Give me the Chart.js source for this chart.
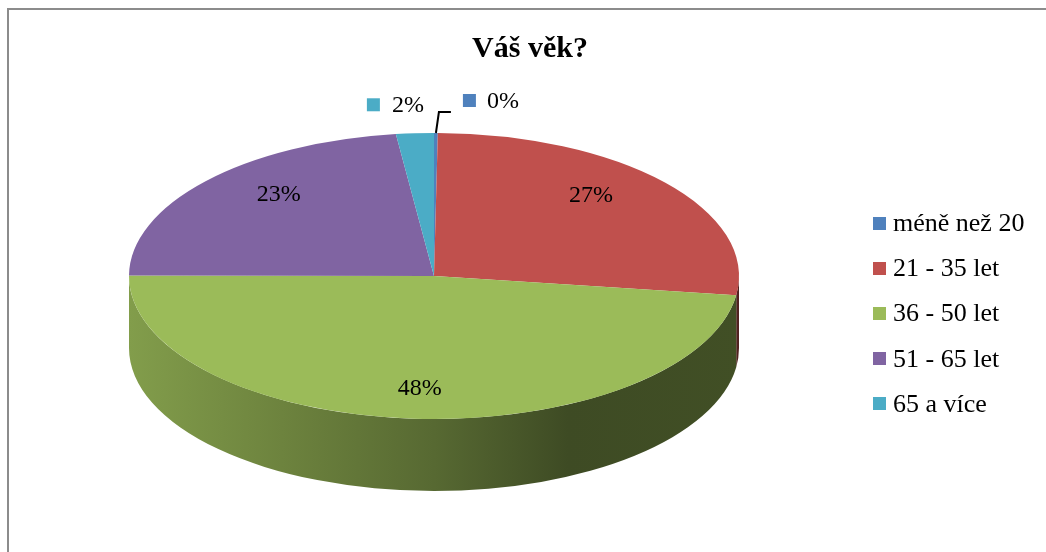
<!DOCTYPE html>
<html>
<head>
<meta charset="utf-8">
<script src="https://cdn.jsdelivr.net/npm/chart.js@4/dist/chart.umd.min.js"></script>
<style>
  html, body { margin: 0; padding: 0; background: #fff; overflow: hidden; }
  #wrap { position: relative; width: 1046px; height: 552px; }
  #frame { position: absolute; left: 7px; top: 8px; width: 1100px; height: 600px; border: 2px solid #8c8c8c; box-sizing: border-box; }
  #chart { position: absolute; left: 0; top: 0; }
  #legend { position: absolute; left: 873px; top: 0; font-family: 'Liberation Serif', 'Times New Roman', serif; font-size: 26px; color: #000; }
  .item { position: absolute; left: 0; height: 30px; display: flex; align-items: center; white-space: nowrap; }
  .box { width: 13px; height: 13px; margin-right: 7px; flex: none; }
</style>
</head>
<body>
<div id="wrap">
  <div id="frame"></div>
  <canvas id="chart" width="1046" height="552"></canvas>
  <div id="legend"></div>
</div>
<script>
// data
const TITLE = 'Váš věk?';
const labels = ['méně než 20', '21 - 35 let', '36 - 50 let', '51 - 65 let', '65 a více'];
const values = [0.2, 27, 48, 23, 2];
const colors = ['#4f81bd', '#c0504d', '#9bbb59', '#8064a2', '#4bacc6'];

// 3D ellipse layout (screen pixels)
const PIE = { cx: 434, cy: 276, rx: 305, ry: 143, depth: 72, labelCy: 272 };
const FONT = "'Liberation Serif', 'Times New Roman', serif";

function shade(hex, k) {
  const n = parseInt(hex.slice(1), 16);
  const r = Math.round(((n >> 16) & 255) * k);
  const g = Math.round(((n >> 8) & 255) * k);
  const b = Math.round((n & 255) * k);
  return `rgb(${r},${g},${b})`;
}

// side wall + squash the round pie into an ellipse
const pie3d = {
  id: 'pie3d',
  beforeDatasetsDraw(chart) {
    const ctx = chart.ctx;
    const meta = chart.getDatasetMeta(0);
    const first = meta.data[0];
    const R = first.outerRadius;

    // side wall of the front half
    meta.data.forEach((arc, i) => {
      const lo = Math.max(arc.startAngle, 0);
      const hi = Math.min(arc.endAngle, Math.PI);
      if (hi <= lo) return;
      const grad = ctx.createLinearGradient(PIE.cx - PIE.rx, 0, PIE.cx + PIE.rx, 0);
      grad.addColorStop(0, shade(colors[i], 0.84));
      grad.addColorStop(0.25, shade(colors[i], 0.7));
      grad.addColorStop(0.5, shade(colors[i], 0.56));
      grad.addColorStop(0.72, shade(colors[i], 0.4));
      grad.addColorStop(1, shade(colors[i], 0.42));
      ctx.save();
      ctx.beginPath();
      ctx.ellipse(PIE.cx, PIE.cy, PIE.rx, PIE.ry, 0, lo, hi);
      ctx.ellipse(PIE.cx, PIE.cy + PIE.depth, PIE.rx, PIE.ry, 0, hi, lo, true);
      ctx.closePath();
      ctx.fillStyle = grad;
      ctx.fill();
      ctx.restore();
    });

    ctx.save();
    ctx.translate(PIE.cx, PIE.cy);
    ctx.scale(PIE.rx / R, PIE.ry / R);
    ctx.translate(-first.x, -first.y);
  },
  afterDatasetsDraw(chart) {
    chart.ctx.restore();
  },
};

// percent labels
const pieLabels = {
  id: 'pieLabels',
  afterDatasetsDraw(chart) {
    const ctx = chart.ctx;
    const meta = chart.getDatasetMeta(0);
    const total = values.reduce((a, b) => a + b, 0);
    ctx.save();
    ctx.font = '24px ' + FONT;
    ctx.fillStyle = '#000';
    ctx.textBaseline = 'middle';
    ctx.textAlign = 'left';
    meta.data.forEach((arc, i) => {
      const share = values[i] / total;
      const text = Math.round(share * 100) + '%';
      const mid = (arc.startAngle + arc.endAngle) / 2;
      if (share >= 0.05) {
        const x = PIE.cx + PIE.rx * 0.68 * Math.cos(mid);
        const y = PIE.labelCy + PIE.ry * 0.82 * Math.sin(mid);
        ctx.textAlign = 'center';
        ctx.fillText(text, x, y);
        return;
      }
      // small slices: label outside, above the rim
      const ex = PIE.cx + PIE.rx * Math.cos(mid);
      const ey = PIE.cy + PIE.ry * Math.sin(mid);
      ctx.textAlign = 'left';
      if (Math.cos(mid) > 0) {
        const y = ey - 32;
        ctx.fillStyle = colors[i];
        ctx.fillRect(ex + 27, y - 7, 13, 13);
        ctx.fillStyle = '#000';
        ctx.fillText(text, ex + 51, y + 1);
        ctx.beginPath();
        ctx.moveTo(ex, ey);
        ctx.lineTo(ex + 3, ey - 21);
        ctx.lineTo(ex + 15, ey - 21);
        ctx.lineWidth = 2;
        ctx.strokeStyle = '#000';
        ctx.stroke();
      } else {
        const y = ey - 29;
        ctx.fillStyle = colors[i];
        ctx.fillRect(ex - 48, y - 6, 13, 13);
        ctx.fillStyle = '#000';
        ctx.fillText(text, ex - 23, y + 1);
      }
    });
    ctx.restore();
  },
};

new Chart(document.getElementById('chart'), {
  type: 'pie',
  data: {
    labels: labels,
    datasets: [
      {
        data: values,
        backgroundColor: colors,
        borderWidth: 0,
        clip: false,
      },
    ],
  },
  options: {
    responsive: false,
    animation: false,
    layout: { padding: { left: 14 } },
    plugins: {
      legend: { display: false },
      tooltip: { enabled: false },
      title: {
        display: true,
        text: TITLE,
        color: '#000',
        font: { family: FONT, size: 30, weight: 'bold' },
        padding: { top: 31, bottom: 10 },
      },
    },
  },
  plugins: [pie3d, pieLabels],
});

// legend on the right
const legendEl = document.getElementById('legend');
labels.forEach((label, i) => {
  const item = document.createElement('div');
  item.className = 'item';
  item.style.top = (223 + i * 45.2 - 15) + 'px';
  item.innerHTML = `<span class="box" style="background:${colors[i]}"></span><span>${label}</span>`;
  legendEl.appendChild(item);
});
</script>
</body>
</html>
